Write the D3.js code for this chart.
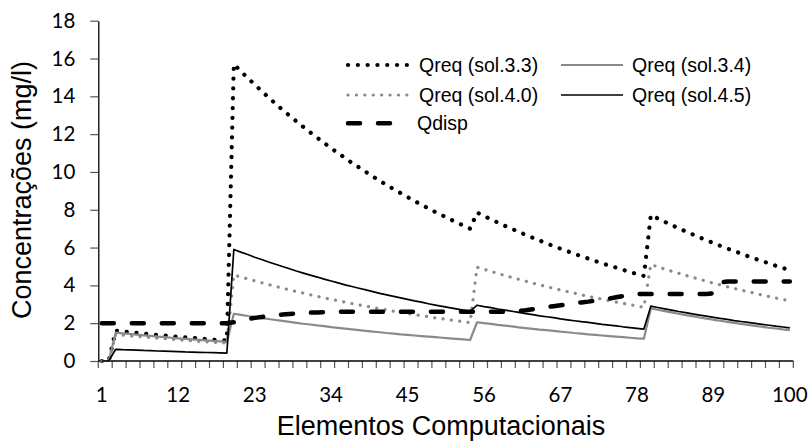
<!DOCTYPE html>
<html>
<head>
<meta charset="utf-8">
<script src="https://cdn.jsdelivr.net/npm/d3@7"></script>
<style>
  body { margin: 0; background: #fff; }
  svg { display: block; }
</style>
</head>
<body>
<div id="chart"></div>
<script>
// 資料
const categories = d3.range(1, 101)
const xTickLabels = [1, 12, 23, 34, 45, 56, 67, 78, 89, 100]
const yTickValues = [0, 2, 4, 6, 8, 10, 12, 14, 16, 18]

const sol33 = [
  0, 0,
  1.60, 1.56, 1.52, 1.49, 1.45, 1.41, 1.38, 1.35, 1.31, 1.28, 1.25, 1.22, 1.19, 1.16, 1.13, 1.11, 1.08,
  15.70, 15.33, 14.97, 14.62, 14.28, 13.94, 13.61, 13.29, 12.98, 12.68, 12.38, 12.09, 11.81, 11.53, 11.26, 10.99, 10.74, 10.48,
  10.24, 10.00, 9.76, 9.53, 9.31, 9.09, 8.88, 8.67, 8.46, 8.27, 8.07, 7.88, 7.70, 7.52, 7.34, 7.17, 7.00,
  7.85, 7.67, 7.49, 7.32, 7.15, 6.99, 6.83, 6.67, 6.52, 6.37, 6.22, 6.08, 5.94, 5.81, 5.67, 5.54, 5.42, 5.29, 5.17, 5.05,
  4.94, 4.82, 4.71, 4.60, 4.50,
  7.72, 7.54, 7.36, 7.19, 7.02, 6.86, 6.70, 6.54, 6.39, 6.24, 6.09, 5.95, 5.81, 5.68, 5.54, 5.41, 5.29, 5.16, 5.04, 4.92, 4.81,
]
const sol34 = [
  0, 0,
  1.50, 1.46, 1.43, 1.39, 1.36, 1.33, 1.29, 1.26, 1.23, 1.20, 1.17, 1.14, 1.12, 1.09, 1.06, 1.04, 1.01,
  2.50, 2.44, 2.38, 2.33, 2.27, 2.22, 2.17, 2.12, 2.07, 2.02, 1.97, 1.93, 1.88, 1.84, 1.79, 1.75, 1.71, 1.67,
  1.63, 1.59, 1.55, 1.52, 1.48, 1.45, 1.41, 1.38, 1.35, 1.32, 1.29, 1.26, 1.23, 1.20, 1.17, 1.14, 1.11,
  2.05, 2.00, 1.96, 1.91, 1.87, 1.83, 1.78, 1.74, 1.70, 1.66, 1.63, 1.59, 1.55, 1.52, 1.48, 1.45, 1.41, 1.38, 1.35, 1.32,
  1.29, 1.26, 1.23, 1.20, 1.18,
  2.78, 2.71, 2.64, 2.57, 2.50, 2.43, 2.37, 2.30, 2.24, 2.18, 2.13, 2.07, 2.02, 1.96, 1.91, 1.86, 1.81, 1.76, 1.72, 1.67, 1.63,
]
const sol40 = [
  0, 0,
  1.40, 1.37, 1.33, 1.30, 1.27, 1.24, 1.21, 1.18, 1.15, 1.12, 1.09, 1.07, 1.04, 1.02, 0.99, 0.97, 0.94,
  4.55, 4.44, 4.34, 4.24, 4.14, 4.04, 3.95, 3.85, 3.76, 3.67, 3.59, 3.50, 3.42, 3.34, 3.26, 3.19, 3.11, 3.04,
  2.97, 2.90, 2.83, 2.76, 2.70, 2.63, 2.57, 2.51, 2.45, 2.40, 2.34, 2.28, 2.23, 2.18, 2.13, 2.08, 2.03,
  4.96, 4.85, 4.74, 4.63, 4.52, 4.42, 4.32, 4.22, 4.12, 4.03, 3.93, 3.84, 3.76, 3.67, 3.59, 3.50, 3.42, 3.34, 3.27, 3.19,
  3.12, 3.05, 2.98, 2.91, 2.84,
  5.10, 4.98, 4.86, 4.75, 4.64, 4.53, 4.43, 4.32, 4.22, 4.12, 4.03, 3.93, 3.84, 3.75, 3.66, 3.58, 3.49, 3.41, 3.33, 3.25, 3.18,
]
const sol45 = [
  0, 0,
  0.62, 0.60, 0.59, 0.58, 0.56, 0.55, 0.53, 0.52, 0.51, 0.50, 0.48, 0.47, 0.46, 0.45, 0.44, 0.43, 0.42,
  5.90, 5.76, 5.63, 5.49, 5.37, 5.24, 5.12, 5.00, 4.88, 4.76, 4.65, 4.54, 4.44, 4.33, 4.23, 4.13, 4.03, 3.94,
  3.85, 3.76, 3.67, 3.58, 3.50, 3.42, 3.34, 3.26, 3.18, 3.11, 3.03, 2.96, 2.89, 2.82, 2.76, 2.69, 2.63,
  2.95, 2.88, 2.82, 2.75, 2.69, 2.63, 2.57, 2.51, 2.45, 2.39, 2.34, 2.29, 2.23, 2.18, 2.13, 2.08, 2.04, 1.99, 1.94, 1.90,
  1.86, 1.81, 1.77, 1.73, 1.69,
  2.90, 2.83, 2.76, 2.69, 2.62, 2.56, 2.49, 2.43, 2.37, 2.31, 2.25, 2.20, 2.14, 2.09, 2.04, 1.99, 1.94, 1.89, 1.84, 1.80, 1.75,
]
const qdisp = [
  2.00, 2.00, 2.00, 2.00, 2.00, 2.00, 2.00, 2.00, 2.00, 2.00, 2.00, 2.00, 2.00, 2.00, 2.00, 2.00, 2.00, 2.00, 2.00,
  2.05, 2.15, 2.22, 2.28, 2.33, 2.38, 2.42, 2.46, 2.49, 2.52, 2.54, 2.56, 2.57, 2.58, 2.59,
  2.60, 2.60, 2.60, 2.60, 2.60, 2.60, 2.60, 2.60, 2.60, 2.60, 2.60, 2.60, 2.60,
  2.60, 2.60, 2.60, 2.60, 2.60, 2.60, 2.60, 2.60, 2.60, 2.60, 2.60, 2.60, 2.60,
  2.64, 2.68, 2.74, 2.80, 2.85, 2.90, 2.95, 3.00, 3.05, 3.10, 3.14, 3.19, 3.23, 3.30, 3.37, 3.44, 3.50, 3.54, 3.55,
  3.55, 3.55, 3.55, 3.55, 3.55, 3.55, 3.55, 3.55, 3.55, 3.58,
  4.15, 4.20, 4.20, 4.20, 4.20, 4.20, 4.20, 4.20, 4.20, 4.20, 4.20,
]

// 系列樣式 (繪製順序 = 圖例順序)
const series = [
  { name: 'Qreq (sol.3.3)', values: sol33, color: '#000', width: 4.2, dash: '0.1 9.7', cap: 'round' },
  { name: 'Qreq (sol.3.4)', values: sol34, color: '#8a8a8a', width: 2.2, dash: null, cap: 'butt' },
  { name: 'Qreq (sol.4.0)', values: sol40, color: '#8a8a8a', width: 3.2, dash: '0.1 8.3', cap: 'round' },
  { name: 'Qreq (sol.4.5)', values: sol45, color: '#000', width: 1.7, dash: null, cap: 'butt' },
  { name: 'Qdisp', values: qdisp, color: '#000', width: 4.5, dash: '12 18', cap: 'round' },
]

const width = 810
const height = 445
const plot = { left: 98.3, right: 793.3, top: 20.7, bottom: 361 }

const svg = d3.select('#chart')
  .append('svg')
  .attr('width', width)
  .attr('height', height)

const x = d3.scalePoint().domain(categories).range([plot.left, plot.right]).padding(0.5)
const xBand = d3.scaleBand().domain(categories).range([plot.left, plot.right])
const y = d3.scaleLinear().domain([0, 18]).range([plot.bottom, plot.top])

/** =========================
 * 座標軸
 ========================= */
const yAxis = svg.append('g')
  .attr('transform', `translate(${plot.left},0)`)
  .call(d3.axisLeft(y).tickValues(yTickValues).tickSize(8).tickSizeOuter(0).tickPadding(15))
yAxis.select('.domain').attr('stroke', '#000').attr('stroke-width', 1.3)
yAxis.selectAll('.tick line').attr('stroke', '#555').attr('stroke-width', 1.2)
yAxis.selectAll('.tick text')
  .attr('fill', '#000')
  .style('font-family', 'Lato, "Open Sans", sans-serif')
  .style('font-size', '20.5px')

// x 軸刻度在類別之間，每 2 個類別一個
const xTickPos = categories.filter(c => (c - 1) % 2 === 0).map(c => xBand(c)).concat([plot.right])
const xAxis = svg.append('g')
xAxis.selectAll('line.tick')
  .data(xTickPos)
  .join('line')
  .attr('class', 'tick')
  .attr('x1', d => d).attr('x2', d => d)
  .attr('y1', plot.bottom).attr('y2', plot.bottom + 7)
  .attr('stroke', '#555')
  .attr('stroke-width', 1.2)
xAxis.append('line')
  .attr('x1', plot.left).attr('x2', plot.right)
  .attr('y1', plot.bottom).attr('y2', plot.bottom)
  .attr('stroke', '#000')
  .attr('stroke-width', 1.3)
xAxis.selectAll('text')
  .data(xTickLabels)
  .join('text')
  .attr('x', d => x(d))
  .attr('y', 402)
  .attr('text-anchor', 'middle')
  .style('font-family', 'Lato, "Open Sans", sans-serif')
  .style('font-size', '20.5px')
  .text(d => d)

// 軸標題
svg.append('text')
  .attr('transform', 'translate(31,190) rotate(-90)')
  .attr('text-anchor', 'middle')
  .style('font-family', '"Liberation Sans", Arial, sans-serif')
  .style('font-size', '27px')
  .text('Concentrações (mg/l)')

svg.append('text')
  .attr('x', 441)
  .attr('y', 435)
  .attr('text-anchor', 'middle')
  .style('font-family', '"Liberation Sans", Arial, sans-serif')
  .style('font-size', '27px')
  .text('Elementos Computacionais')

/** =========================
 * 折線
 ========================= */
const line = d3.line()
  .x((d, i) => x(categories[i]))
  .y(d => y(d))

svg.append('g')
  .selectAll('path')
  .data(series)
  .join('path')
  .attr('d', d => line(d.values))
  .attr('fill', 'none')
  .attr('stroke', d => d.color)
  .attr('stroke-width', d => d.width)
  .attr('stroke-dasharray', d => d.dash)
  .attr('stroke-linecap', d => d.cap)
  .attr('stroke-linejoin', 'round')

/** =========================
 * 圖例
 ========================= */
const legendCols = [348, 561]
const legendRows = [65, 95, 123.3]
const legendPos = [[0, 0], [1, 0], [0, 1], [1, 1], [0, 2]]

const legend = svg.append('g')
  .selectAll('g')
  .data(series)
  .join('g')
  .attr('transform', (d, i) => `translate(${legendCols[legendPos[i][0]]},${legendRows[legendPos[i][1]]})`)

legend.append('line')
  .attr('x1', 0).attr('x2', (d, i) => (legendPos[i][0] === 0 ? 60 : 62))
  .attr('y1', 0).attr('y2', 0)
  .attr('stroke', d => d.color)
  .attr('stroke-width', d => d.width)
  .attr('stroke-dasharray', d => d.dash)
  .attr('stroke-linecap', d => d.cap)

legend.append('text')
  .attr('x', (d, i) => (i === 4 ? 69 : legendPos[i][0] === 0 ? 71 : 71))
  .attr('y', 7)
  .style('font-family', '"Liberation Sans", Arial, sans-serif')
  .style('font-size', '19.5px')
  .text(d => d.name)
</script>
</body>
</html>
